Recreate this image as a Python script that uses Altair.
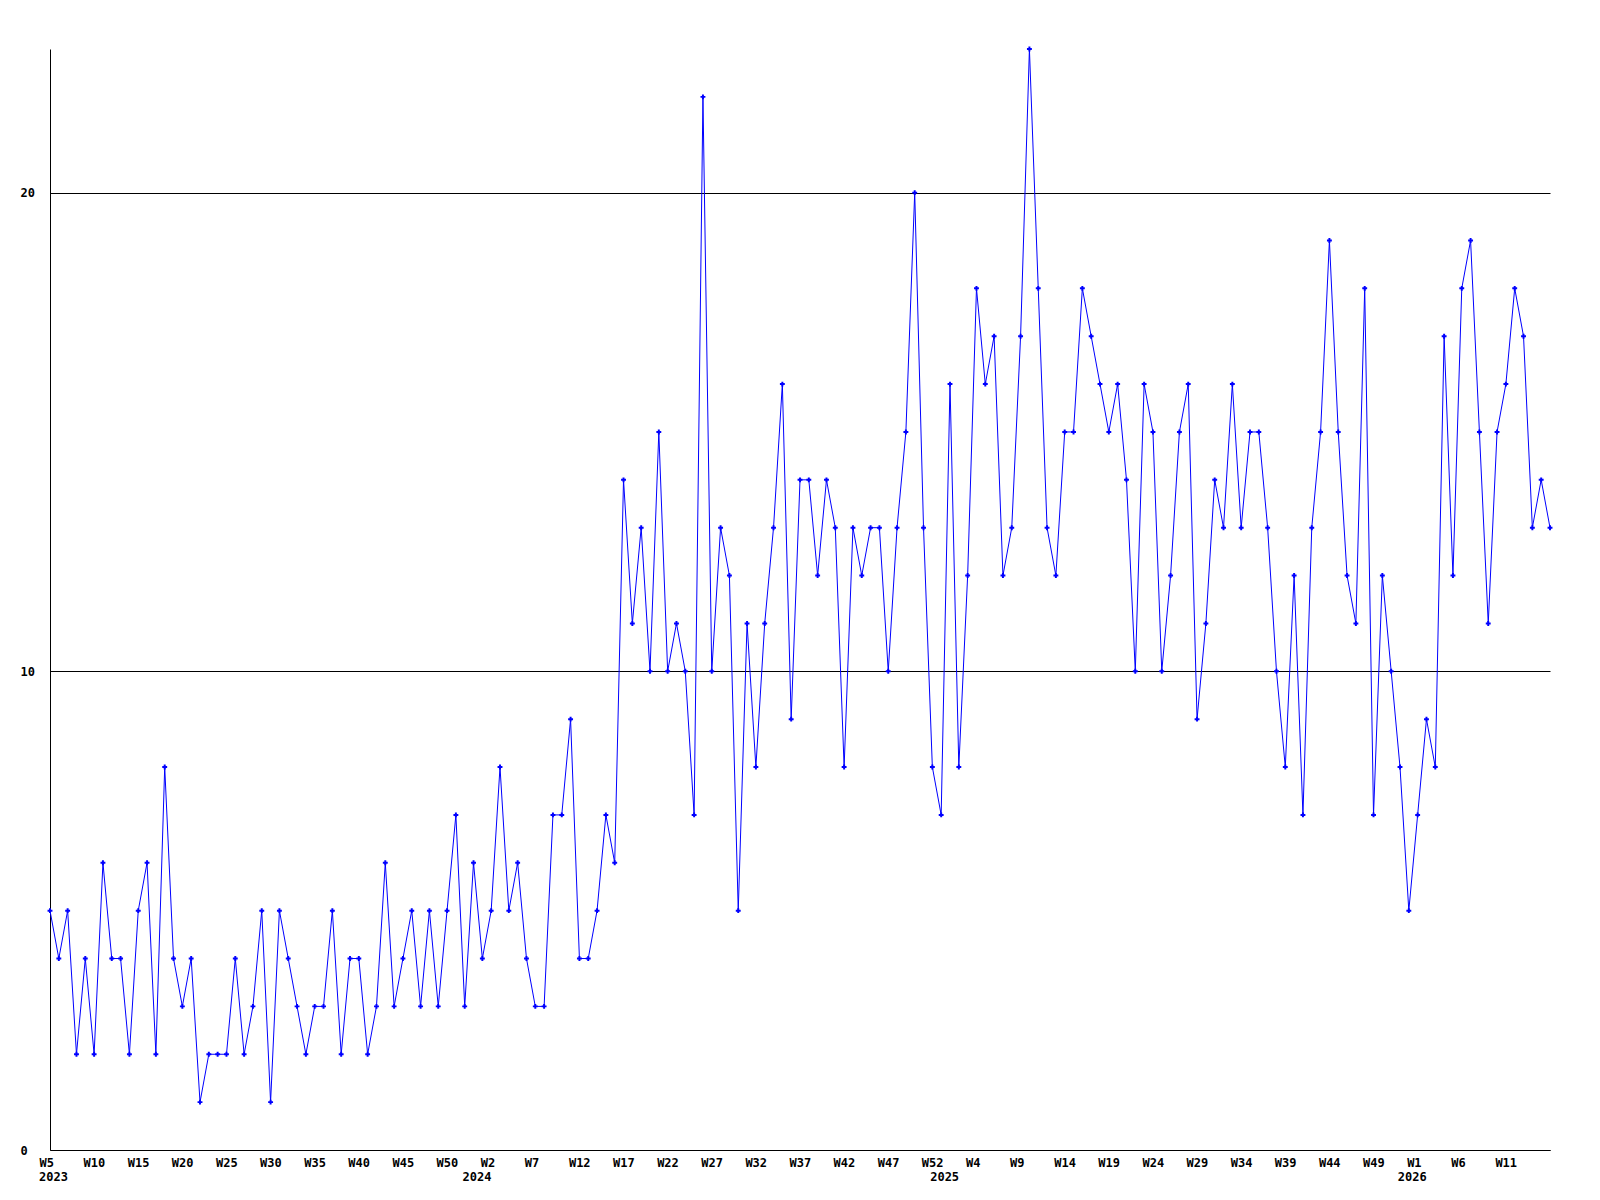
import json
import altair as alt
import pandas as pd

# Weekly counts, one per point, starting at 2023 W5
values_2023 = [5, 4, 5, 2, 4, 2, 6, 4, 4, 2,
               5, 6, 2, 8, 4, 3, 4, 1, 2, 2,
               2, 4, 2, 3, 5, 1, 5, 4, 3, 2,
               3, 3, 5, 2, 4, 4, 2, 3, 6, 3,
               4, 5, 3, 5, 3, 5, 7, 3]
values_2024 = [6, 4, 5, 8, 5, 6, 4, 3, 3, 7,
               7, 9, 4, 4, 5, 7, 6, 14, 11, 13,
               10, 15, 10, 11, 10, 7, 22, 10, 13, 12,
               5, 11, 8, 11, 13, 16, 9, 14, 14, 12,
               14, 13, 8, 13, 12, 13, 13, 10, 13, 15,
               20, 13]
values_2025 = [8, 7, 16, 8, 12, 18, 16, 17, 12, 13,
               17, 23, 18, 13, 12, 15, 15, 18, 17, 16,
               15, 16, 14, 10, 16, 15, 10, 12, 15, 16,
               9, 11, 14, 13, 16, 13, 15, 15, 13, 10,
               8, 12, 7, 13, 15, 19, 15, 12, 11, 18,
               7, 12]
values_2026 = [10, 8, 5, 7, 9, 8, 17, 12, 18, 19,
               15, 11, 15, 16, 18, 17, 13, 14, 13]

values = values_2023 + values_2024 + values_2025 + values_2026

# x-axis tick labels, one every 5 points
tick_labels = ["W5", "W10", "W15", "W20", "W25", "W30", "W35", "W40", "W45", "W50",
               "W2", "W7", "W12", "W17", "W22", "W27", "W32", "W37", "W42", "W47", "W52",
               "W4", "W9", "W14", "W19", "W24", "W29", "W34", "W39", "W44", "W49",
               "W1", "W6", "W11"]
tick_step = 5

year_labels = ["2023", "2024", "2025", "2026"]
year_index = [0, 48, 101, 154]

n = len(values)
df = pd.DataFrame({"i": list(range(n)), "v": values})
df_years = pd.DataFrame({"i": year_index, "label": year_labels})

FONT = "DejaVu Sans Mono"
W = 1500
H = 1101

xscale = alt.Scale(domain=[0, n - 1], nice=False, zero=False)
yscale = alt.Scale(domain=[0, 23], nice=False)

label_expr = json.dumps(tick_labels) + "[round(datum.value / %d)]" % tick_step

x_axis = alt.Axis(
    values=list(range(0, n, tick_step)),
    labelExpr=label_expr,
    title=None,
    grid=False,
    ticks=False,
    domainColor="black",
    domainWidth=1,
    labelFont=FONT,
    labelFontSize=12,
    labelFontWeight="bold",
    labelColor="black",
    labelAlign="left",
    labelOffset=-11,
    labelPadding=7,
    labelFlush=False,
    labelOverlap=False,
)

y_axis = alt.Axis(
    values=[0, 10, 20],
    title=None,
    grid=True,
    gridColor="black",
    gridOpacity=1,
    gridWidth=1,
    ticks=False,
    tickSize=0,
    domainColor="black",
    domainWidth=1,
    labelFont=FONT,
    labelFontSize=12,
    labelFontWeight="bold",
    labelColor="black",
    labelAlign="left",
    labelBaseline="middle",
    labelPadding=30,
)

line = alt.Chart(df).mark_line(color="#0000ff", strokeWidth=1).encode(
    x=alt.X("i:Q", scale=xscale, axis=x_axis),
    y=alt.Y("v:Q", scale=yscale, axis=y_axis),
)

points = alt.Chart(df).mark_point(
    shape="cross", filled=True, size=24, color="#0000ff", opacity=1
).encode(
    x=alt.X("i:Q", scale=xscale),
    y=alt.Y("v:Q", scale=yscale),
)

years = alt.Chart(df_years).mark_text(
    font=FONT, fontSize=12, fontWeight="bold", color="black",
    align="left", baseline="middle", dx=-11
).encode(
    x=alt.X("i:Q", scale=xscale),
    y=alt.value(H + 27),
    text="label:N",
)

chart = alt.layer(line, points, years).properties(
    width=W,
    height=H,
    padding={"left": 42, "top": 41, "right": 40, "bottom": 45},
    autosize=alt.AutoSizeParams(type="none"),
    background="white",
).configure_view(stroke=None)

chart.save("out.html", embed_options={"renderer": "svg", "actions": False})
